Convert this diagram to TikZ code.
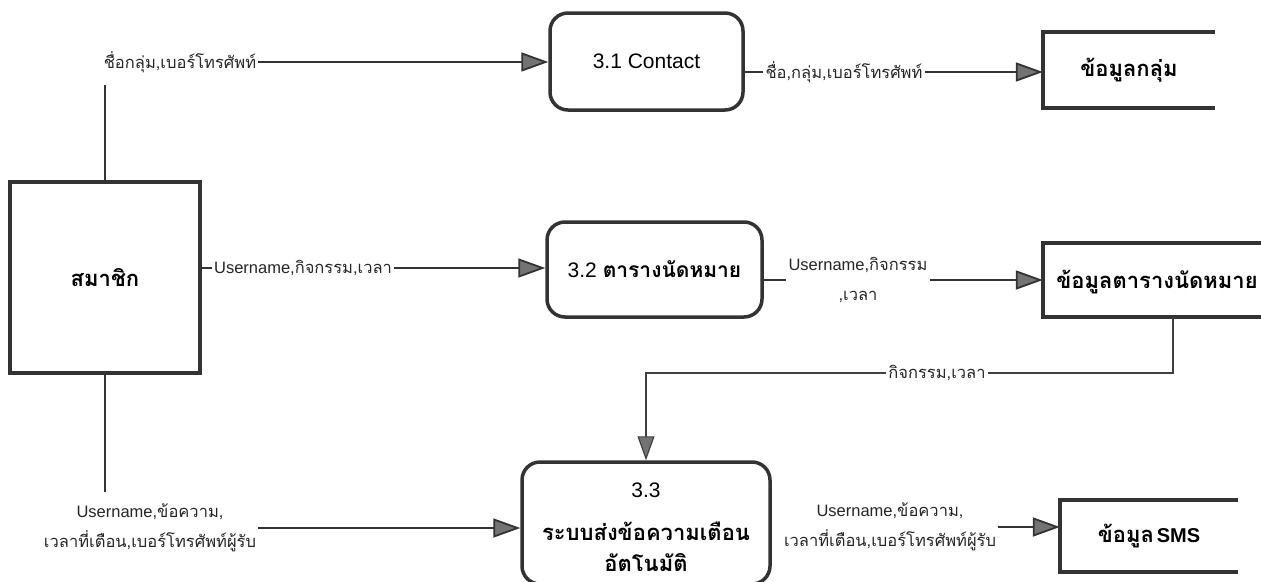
\documentclass[tikz,border=0pt]{standalone}
\usepackage{fontspec}
\setmainfont{Liberation Sans}
\newfontfamily\thai[Script=Thai]{Loma}
\usetikzlibrary{arrows.meta}
\tikzset{
  x=1pt, y=-1pt,
  boxline/.style={draw=black!80, line width=3.5pt},
  proc/.style={boxline, rounded corners=18pt, align=center, inner sep=0pt},
  entity/.style={boxline, inner sep=0pt},
  store/.style={inner sep=0pt},
  storeline/.style={black!80, line width=3.5pt},
  lbl/.style={font=\fontsize{16.5}{30}\selectfont, align=center, inner sep=2pt, text=black!85},
  ttl/.style={font=\fontsize{21}{36}\selectfont},
  bthai/.style={font=\fontsize{22}{36}\selectfont\thai\bfseries},
  line/.style={black!80, line width=1.8pt},
  thin/.style={black!75, line width=1.2pt},
  flow/.style={line, -{Triangle[length=27pt,width=19pt,fill=black!55]}},
  thinflow/.style={thin, -{Triangle[length=24pt,width=17pt,fill=black!55]}},
}
\begin{document}
\begin{tikzpicture}
\useasboundingbox (0,0) rectangle (1261,581);
\fill[white] (0,0) rectangle (1261,581);

% external entity
\node[entity, minimum width=190pt, minimum height=191pt, bthai] (mem) at (105,277.5) {สมาชิก};

% processes
\node[proc, minimum width=193pt, minimum height=97pt, ttl] (p31) at (646.5,61.5) {3.1 Contact};
\node[proc, minimum width=215pt, minimum height=95pt, font=\fontsize{21}{36}\selectfont] (p32) at (654.5,269.5) {3.2 {\thai\bfseries ตารางนัดหมาย}};
\node[proc, minimum width=248pt, minimum height=122pt] (p33) at (646,523) {};
\node[ttl] (p33a) at (646,490) {3.3};
\node[bthai] (p33b) at (646,531) {ระบบส่งข้อความเตือน};
\node[bthai] (p33c) at (646,563) {อัตโนมัติ};

% data stores
\node[store, minimum width=172pt, minimum height=76pt, bthai] (s1) at (1129,70) {ข้อมูลกลุ่ม};
\draw[storeline] (s1.north east) -- (s1.north west) -- (s1.south west) -- (s1.south east);
\node[store, minimum width=226pt, minimum height=74pt] (s2) at (1156,280) {};
\node[bthai] (s2t) at (1157,282) {ข้อมูลตารางนัดหมาย};
\draw[storeline] (s2.north east) -- (s2.north west) -- (s2.south west) -- (s2.south east);
\node[store, minimum width=178pt, minimum height=72pt] (s3) at (1149,536) {{\thai\fontsize{22}{36}\selectfont\bfseries ข้อมูล} \fontsize{20}{36}\selectfont\bfseries SMS};
\draw[storeline] (s3.north east) -- (s3.north west) -- (s3.south west) -- (s3.south east);

% flow 1
\node[lbl] (l1) at (180,62) {\thai ชื่อกลุ่ม,เบอร์โทรศัพท์};
\coordinate (c1) at (105,85);
\draw[line] (mem.north) -- (c1);
\draw[flow] (l1.east) -- (p31.west |- l1);

% flow 2
\node[lbl] (l2) at (844,72) {\thai ชื่อ,กลุ่ม,เบอร์โทรศัพท์};
\draw[line] (p31.east |- l2) -- (l2.west);
\draw[flow] (l2.east) -- (s1.west |- l2);

% flow 3
\node[lbl] (l3) at (303,268) {Username,{\thai กิจกรรม,เวลา}};
\draw[line] (mem.east |- l3) -- (l3.west);
\draw[flow] (l3.east) -- (p32.west |- l3);

% flow 4
\node[lbl] (l4) at (858,280) {Username,{\thai กิจกรรม}\\{\thai ,เวลา}};
\draw[line] (p32.east |- l4) -- (l4.west);
\draw[flow] (l4.east) -- (s2.west |- l4);

% flow 5
\coordinate (d1) at (1173,373);
\node[lbl] (l5) at (937,373) {\thai กิจกรรม,เวลา};
\draw[thin] (s2.south -| d1) -- (d1) -- (l5.east);
\draw[thinflow] (l5.west) -- (p33.north |- l5) -- (p33.north);

% flow 6
\coordinate (c2) at (105,492);
\draw[line] (mem.south) -- (c2);
\node[lbl] (l6) at (150,528) {Username,{\thai ข้อความ,}\\{\thai เวลาที่เตือน,เบอร์โทรศัพท์ผู้รับ}};
\draw[flow] (l6.east) -- (p33.west |- l6);

% flow 7
\node[lbl] (l7) at (890,527) {Username,{\thai ข้อความ,}\\{\thai เวลาที่เตือน,เบอร์โทรศัพท์ผู้รับ}};
\draw[flow] (l7.east) -- (s3.west |- l7);
\end{tikzpicture}
\end{document}
